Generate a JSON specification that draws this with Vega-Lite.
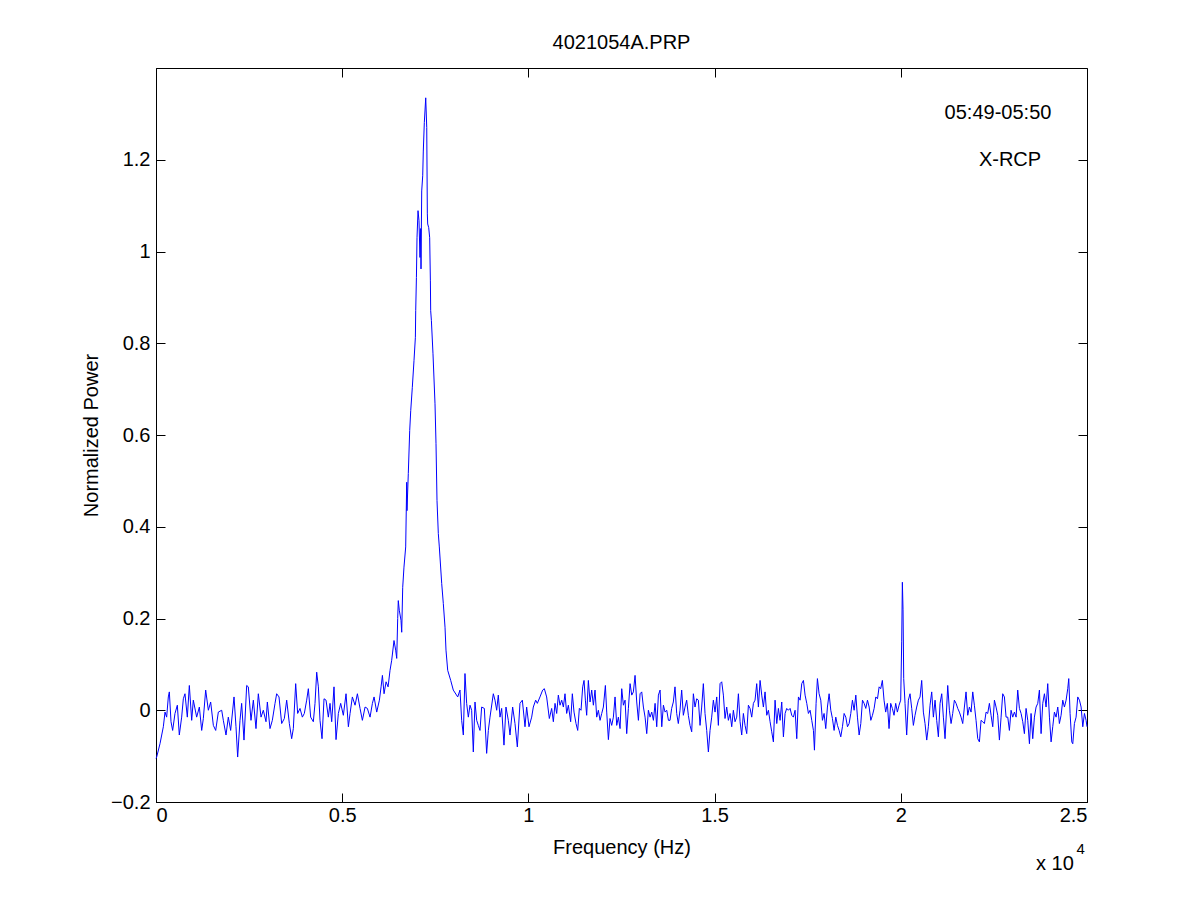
{
  "$schema": "https://vega.github.io/schema/vega-lite/v6.json",
  "width": 931,
  "height": 734,
  "autosize": "none",
  "padding": {"left": 156, "top": 68, "right": 114, "bottom": 99},
  "background": "white",
  "title": {"text": "4021054A.PRP", "font": "Liberation Sans", "fontSize": 20, "fontWeight": "normal", "color": "black", "offset": 15},
  "config": {
    "view": {"stroke": "black", "strokeWidth": 1},
    "axis": {
      "grid": false, "domainColor": "black", "tickColor": "black", "tickSize": -9,
      "labelFont": "Liberation Sans", "labelFontSize": 20, "labelColor": "black",
      "titleFont": "Liberation Sans", "titleFontSize": 20, "titleFontWeight": "normal", "titleColor": "black"
    }
  },
  "datasets": {
    "spectrum": [
      {"f":0,"p":-0.105},{"f":18,"p":-0.102},{"f":107,"p":-0.073},{"f":197,"p":-0.036},{"f":242,"p":-0.004},{"f":286,"p":-0.015},{"f":331,"p":0.029},{"f":358,"p":0.040},{"f":403,"p":-0.025},{"f":447,"p":-0.044},{"f":510,"p":-0.007},{"f":573,"p":0.011},{"f":626,"p":-0.054},{"f":689,"p":-0.015},{"f":734,"p":0.025},{"f":778,"p":0.036},{"f":841,"p":-0.015},{"f":895,"p":0.054},{"f":958,"p":-0.022},{"f":1002,"p":0.022},{"f":1092,"p":-0.015},{"f":1164,"p":0.007},{"f":1227,"p":-0.044},{"f":1271,"p":-0.018},{"f":1334,"p":0.044},{"f":1406,"p":0},{"f":1468,"p":0.018},{"f":1540,"p":-0.033},{"f":1603,"p":-0.044},{"f":1674,"p":-0.004},{"f":1764,"p":0},{"f":1808,"p":-0.022},{"f":1880,"p":-0.054},{"f":1942,"p":-0.015},{"f":2005,"p":-0.044},{"f":2095,"p":0.029},{"f":2148,"p":-0.036},{"f":2193,"p":-0.102},{"f":2256,"p":-0.022},{"f":2300,"p":0.015},{"f":2363,"p":-0.065},{"f":2435,"p":0.054},{"f":2479,"p":0.051},{"f":2551,"p":-0.022},{"f":2614,"p":0.022},{"f":2685,"p":-0.040},{"f":2748,"p":0.036},{"f":2820,"p":-0.015},{"f":2882,"p":0},{"f":2954,"p":-0.025},{"f":2990,"p":0.018},{"f":3061,"p":-0.040},{"f":3124,"p":-0.022},{"f":3196,"p":0.015},{"f":3240,"p":0.036},{"f":3303,"p":0.029},{"f":3375,"p":-0.029},{"f":3446,"p":-0.018},{"f":3509,"p":0.022},{"f":3581,"p":-0.029},{"f":3643,"p":-0.062},{"f":3688,"p":-0.040},{"f":3751,"p":0.058},{"f":3804,"p":-0.007},{"f":3867,"p":0.004},{"f":3930,"p":-0.015},{"f":3983,"p":-0.007},{"f":4046,"p":0.022},{"f":4091,"p":0.047},{"f":4153,"p":-0.015},{"f":4225,"p":-0.025},{"f":4270,"p":0.015},{"f":4315,"p":0.083},{"f":4360,"p":0.051},{"f":4404,"p":-0.022},{"f":4458,"p":-0.062},{"f":4512,"p":0.025},{"f":4566,"p":0.022},{"f":4628,"p":-0.015},{"f":4673,"p":0.015},{"f":4718,"p":-0.025},{"f":4780,"p":0.051},{"f":4834,"p":-0.064},{"f":4897,"p":-0.007},{"f":4959,"p":0.015},{"f":5031,"p":-0.011},{"f":5103,"p":0.036},{"f":5166,"p":-0.036},{"f":5211,"p":-0.007},{"f":5273,"p":0.029},{"f":5345,"p":0.011},{"f":5408,"p":0.036},{"f":5479,"p":0.004},{"f":5542,"p":-0.022},{"f":5614,"p":0.007},{"f":5676,"p":0.004},{"f":5748,"p":-0.015},{"f":5811,"p":0.015},{"f":5856,"p":0.029},{"f":5927,"p":-0.004},{"f":5999,"p":0.022},{"f":6044,"p":0.051},{"f":6080,"p":0.076},{"f":6124,"p":0.036},{"f":6178,"p":0.062},{"f":6232,"p":0.051},
      {"f":6284,"p":0.087},{"f":6329,"p":0.109},{"f":6391,"p":0.152},{"f":6436,"p":0.131},{"f":6464,"p":0.113},{"f":6490,"p":0.200},{"f":6506,"p":0.239},{"f":6533,"p":0.218},{"f":6579,"p":0.196},{"f":6598,"p":0.170},{"f":6625,"p":0.268},{"f":6659,"p":0.312},{"f":6705,"p":0.356},{"f":6732,"p":0.497},{"f":6740,"p":0.435},{"f":6775,"p":0.516},{"f":6813,"p":0.610},{"f":6840,"p":0.653},{"f":6883,"p":0.704},{"f":6928,"p":0.762},{"f":6965,"p":0.813},{"f":6974,"p":0.871},{"f":6993,"p":0.943},{"f":7009,"p":1.030},{"f":7036,"p":1.089},{"f":7062,"p":1.067},{"f":7089,"p":0.987},{"f":7108,"p":1.050},{"f":7116,"p":0.962},{"f":7135,"p":1.132},{"f":7162,"p":1.165},{"f":7178,"p":1.219},{"f":7205,"p":1.281},{"f":7243,"p":1.335},{"f":7270,"p":1.270},{"f":7286,"p":1.082},{"f":7296,"p":1.060},{"f":7323,"p":1.052},{"f":7349,"p":1.030},{"f":7368,"p":0.936},{"f":7376,"p":0.871},{"f":7395,"p":0.850},{"f":7438,"p":0.777},{"f":7492,"p":0.668},{"f":7519,"p":0.581},{"f":7546,"p":0.457},{"f":7581,"p":0.385},{"f":7608,"p":0.356},{"f":7672,"p":0.276},{"f":7715,"p":0.233},{"f":7761,"p":0.181},{"f":7787,"p":0.131},{"f":7833,"p":0.087},{"f":7914,"p":0.065},{"f":7983,"p":0.044},{"f":8102,"p":0.029},
      {"f":8163,"p":0.044},{"f":8208,"p":-0.022},{"f":8253,"p":-0.054},{"f":8297,"p":0.080},{"f":8342,"p":0.015},{"f":8387,"p":-0.015},{"f":8432,"p":0.011},{"f":8476,"p":0},{"f":8521,"p":-0.091},{"f":8566,"p":0.018},{"f":8611,"p":-0.022},{"f":8655,"p":-0.033},{"f":8700,"p":-0.044},{"f":8745,"p":0.007},{"f":8817,"p":0.004},{"f":8879,"p":-0.094},{"f":8924,"p":-0.044},{"f":8969,"p":-0.015},{"f":9058,"p":0.036},{"f":9103,"p":0.022},{"f":9148,"p":0},{"f":9192,"p":0.033},{"f":9237,"p":-0.015},{"f":9282,"p":0.004},{"f":9344,"p":-0.076},{"f":9398,"p":0.007},{"f":9461,"p":-0.022},{"f":9506,"p":-0.054},{"f":9577,"p":0.007},{"f":9640,"p":-0.029},{"f":9703,"p":-0.080},{"f":9774,"p":0.015},{"f":9837,"p":0.022},{"f":9909,"p":-0.036},{"f":9953,"p":0.007},{"f":10016,"p":-0.036},{"f":10088,"p":-0.015},{"f":10132,"p":0.007},{"f":10195,"p":0.022},{"f":10240,"p":0.015},{"f":10311,"p":0.029},{"f":10383,"p":0.044},{"f":10428,"p":0.047},{"f":10490,"p":0.029},{"f":10562,"p":-0.018},
      {"f":10625,"p":0.004},{"f":10670,"p":-0.025},{"f":10715,"p":0.015},{"f":10760,"p":-0.007},{"f":10804,"p":0.033},{"f":10849,"p":0.011},{"f":10894,"p":0.022},{"f":10939,"p":0.007},{"f":10983,"p":0.036},{"f":11028,"p":-0.007},{"f":11073,"p":0.011},{"f":11135,"p":-0.025},{"f":11180,"p":0.036},{"f":11225,"p":-0.004},{"f":11279,"p":-0.029},{"f":11324,"p":-0.044},{"f":11368,"p":0.004},{"f":11413,"p":0},{"f":11458,"p":0.051},{"f":11494,"p":0.065},{"f":11530,"p":0.022},{"f":11565,"p":-0.011},{"f":11610,"p":0.065},{"f":11655,"p":0.018},{"f":11700,"p":0.044},{"f":11745,"p":0.011},{"f":11789,"p":0.044},{"f":11834,"p":-0.015},{"f":11879,"p":0},{"f":11924,"p":-0.022},{"f":11969,"p":-0.007},{"f":12013,"p":0.007},{"f":12067,"p":0.054},{"f":12103,"p":-0.004},{"f":12148,"p":-0.064},{"f":12192,"p":-0.018},{"f":12237,"p":-0.033},{"f":12282,"p":-0.015},{"f":12327,"p":0.029},{"f":12372,"p":-0.033},{"f":12416,"p":-0.015},{"f":12461,"p":-0.040},{"f":12506,"p":0.047},{"f":12551,"p":0.011},{"f":12596,"p":0.022},{"f":12640,"p":-0.051},{"f":12685,"p":0.004},{"f":12730,"p":0.058},{"f":12775,"p":0.033},{"f":12819,"p":0.040},{"f":12864,"p":0.076},{"f":12909,"p":0.018},{"f":12954,"p":-0.022},{"f":12999,"p":0.036},{"f":13043,"p":0.040},{"f":13088,"p":0.007},{"f":13133,"p":-0.015},{"f":13178,"p":-0.051},{"f":13222,"p":0},{"f":13267,"p":-0.015},{"f":13312,"p":-0.004},{"f":13357,"p":-0.022},{"f":13402,"p":0.015},{"f":13446,"p":-0.036},{"f":13491,"p":0.033},{"f":13536,"p":0.044},{"f":13581,"p":-0.036},{"f":13625,"p":0.011},{"f":13670,"p":-0.004},{"f":13715,"p":0},{"f":13760,"p":-0.022},
      {"f":13803,"p":-0.022},{"f":13847,"p":0.004},{"f":13892,"p":0.018},{"f":13937,"p":0.051},{"f":13982,"p":-0.007},{"f":14026,"p":-0.029},{"f":14071,"p":0},{"f":14116,"p":0.044},{"f":14161,"p":-0.011},{"f":14206,"p":0.007},{"f":14250,"p":0.022},{"f":14295,"p":-0.011},{"f":14340,"p":-0.033},{"f":14385,"p":-0.047},{"f":14430,"p":0.036},{"f":14474,"p":0.007},{"f":14519,"p":0.025},{"f":14564,"p":0.022},{"f":14609,"p":-0.033},{"f":14653,"p":0.007},{"f":14698,"p":0.058},{"f":14743,"p":-0.007},{"f":14788,"p":-0.044},{"f":14833,"p":-0.091},{"f":14877,"p":-0.044},{"f":14922,"p":-0.015},{"f":14967,"p":0.022},{"f":15012,"p":-0.004},{"f":15057,"p":0.029},{"f":15101,"p":-0.033},{"f":15146,"p":0.058},{"f":15191,"p":0.062},{"f":15236,"p":0.033},{"f":15280,"p":-0.018},{"f":15325,"p":0.007},{"f":15370,"p":-0.022},{"f":15415,"p":-0.007},{"f":15460,"p":-0.036},{"f":15504,"p":0},{"f":15549,"p":-0.025},{"f":15594,"p":-0.015},{"f":15639,"p":0.036},{"f":15684,"p":-0.025},{"f":15728,"p":-0.054},{"f":15773,"p":-0.007},{"f":15818,"p":-0.033},{"f":15863,"p":-0.051},{"f":15907,"p":0.011},{"f":15952,"p":0.004},{"f":15997,"p":-0.015},{"f":16042,"p":0.015},{"f":16086,"p":0.022},{"f":16131,"p":0.058},{"f":16176,"p":0.007},{"f":16221,"p":0.065},{"f":16266,"p":0.033},{"f":16310,"p":0.007},{"f":16355,"p":0.040},{"f":16400,"p":-0.011},{"f":16445,"p":0},{"f":16490,"p":-0.025},{"f":16534,"p":-0.047},{"f":16579,"p":-0.069},{"f":16624,"p":0.022},{"f":16669,"p":-0.029},{"f":16713,"p":0.004},{"f":16758,"p":-0.022},{"f":16803,"p":0.018},{"f":16848,"p":-0.058},{"f":16893,"p":-0.007},{"f":16937,"p":0.004},{"f":16982,"p":0},{"f":17027,"p":0.004},{"f":17072,"p":-0.011},{"f":17116,"p":-0.015},{"f":17161,"p":0},{"f":17206,"p":-0.062},{"f":17251,"p":0.029},{"f":17296,"p":0.022},{"f":17340,"p":0.058},{"f":17385,"p":0.065},{"f":17430,"p":0.033},{"f":17475,"p":0.015},{"f":17519,"p":-0.007},{"f":17564,"p":0},{"f":17609,"p":-0.022},{"f":17654,"p":-0.044},{"f":17681,"p":-0.087},{"f":17725,"p":0.015},{"f":17761,"p":0.069},{"f":17806,"p":0.036},{"f":17851,"p":0.022},{"f":17896,"p":-0.022},{"f":17940,"p":-0.007},{"f":17985,"p":-0.040},{"f":18030,"p":0.007},{"f":18075,"p":0.036},{"f":18120,"p":0},{"f":18164,"p":-0.018},{"f":18209,"p":-0.044},{"f":18254,"p":-0.015},{"f":18299,"p":-0.033},{"f":18344,"p":-0.044},{"f":18388,"p":-0.058},{"f":18433,"p":-0.036},{"f":18478,"p":-0.007},{"f":18523,"p":-0.015},{"f":18568,"p":-0.036},{"f":18612,"p":-0.029},{"f":18657,"p":-0.007},{"f":18702,"p":0.022},{"f":18747,"p":0},{"f":18792,"p":0.033},{"f":18836,"p":-0.015},{"f":18881,"p":-0.054},{"f":18926,"p":-0.029},{"f":18971,"p":0.022},{"f":19015,"p":0.015},{"f":19060,"p":0.004},{"f":19105,"p":0.022},{"f":19150,"p":0.007},{"f":19195,"p":-0.022},{"f":19239,"p":-0.011},{"f":19284,"p":0.004},{"f":19329,"p":0.029},{"f":19374,"p":0.025},{"f":19418,"p":0.051},
      {"f":19460,"p":0.047},{"f":19505,"p":0.065},{"f":19550,"p":0.022},{"f":19594,"p":-0.004},{"f":19639,"p":0.015},{"f":19684,"p":-0.040},{"f":19729,"p":0.015},{"f":19773,"p":0.004},{"f":19818,"p":-0.011},{"f":19863,"p":0.015},{"f":19908,"p":-0.004},{"f":19953,"p":0.011},{"f":19997,"p":0.022},{"f":20024,"p":0.149},{"f":20042,"p":0.279},{"f":20060,"p":0.219},{"f":20078,"p":0.069},{"f":20114,"p":0.015},{"f":20158,"p":-0.054},{"f":20203,"p":0.022},{"f":20248,"p":0.036},{"f":20293,"p":0.004},{"f":20338,"p":-0.033},{"f":20382,"p":-0.011},{"f":20427,"p":0.007},{"f":20472,"p":0.022},{"f":20517,"p":0.029},{"f":20561,"p":0.065},{"f":20606,"p":-0.004},{"f":20651,"p":-0.029},{"f":20696,"p":-0.065},{"f":20740,"p":-0.036},{"f":20785,"p":0.011},{"f":20830,"p":0.040},{"f":20875,"p":-0.015},{"f":20920,"p":0.022},{"f":20964,"p":-0.022},{"f":21009,"p":-0.058},{"f":21054,"p":0.015},{"f":21099,"p":0.036},{"f":21143,"p":-0.015},{"f":21188,"p":-0.062},{"f":21233,"p":0.007},{"f":21260,"p":0.054},{"f":21305,"p":0},{"f":21350,"p":-0.029},{"f":21394,"p":-0.007},{"f":21439,"p":0.022},{"f":21484,"p":0.015},{"f":21529,"p":0.004},{"f":21573,"p":-0.004},{"f":21618,"p":-0.015},{"f":21663,"p":-0.029},{"f":21708,"p":0.007},{"f":21752,"p":0.040},{"f":21797,"p":-0.011},{"f":21842,"p":0.007},{"f":21887,"p":-0.004},{"f":21932,"p":0.040},{"f":21976,"p":0.011},{"f":22021,"p":-0.022},{"f":22066,"p":-0.062},{"f":22111,"p":-0.069},{"f":22155,"p":-0.022},{"f":22200,"p":-0.025},{"f":22245,"p":-0.029},{"f":22290,"p":-0.004},{"f":22334,"p":-0.007},{"f":22379,"p":0.015},{"f":22424,"p":-0.011},{"f":22469,"p":-0.036},{"f":22514,"p":0.022},{"f":22558,"p":0.007},{"f":22603,"p":-0.011},{"f":22648,"p":-0.065},{"f":22693,"p":-0.015},{"f":22737,"p":0.036},{"f":22782,"p":0.029},{"f":22827,"p":-0.015},{"f":22872,"p":-0.015},{"f":22916,"p":-0.044},{"f":22961,"p":0},{"f":23006,"p":-0.015},{"f":23051,"p":-0.004},{"f":23096,"p":-0.015},{"f":23140,"p":0.044},{"f":23185,"p":0.004},{"f":23230,"p":-0.007},{"f":23275,"p":-0.025},{"f":23319,"p":-0.051},{"f":23364,"p":0.004},{"f":23409,"p":-0.022},{"f":23454,"p":-0.073},{"f":23498,"p":-0.007},{"f":23543,"p":-0.062},{"f":23588,"p":-0.015},{"f":23633,"p":0.007},{"f":23678,"p":0.015},{"f":23722,"p":0.044},{"f":23767,"p":-0.051},{"f":23812,"p":0.015},{"f":23857,"p":0.036},{"f":23901,"p":0.007},{"f":23946,"p":0.058},{"f":23991,"p":-0.015},{"f":24036,"p":-0.069},{"f":24080,"p":-0.036},{"f":24125,"p":-0.004},{"f":24170,"p":-0.015},{"f":24215,"p":0.007},{"f":24259,"p":-0.029},{"f":24304,"p":-0.011},{"f":24349,"p":0.022},{"f":24394,"p":0.007},{"f":24439,"p":0.022},{"f":24483,"p":0.047},{"f":24510,"p":0.069},{"f":24546,"p":-0.007},{"f":24591,"p":-0.069},{"f":24618,"p":-0.073},{"f":24662,"p":-0.029},{"f":24707,"p":-0.015},{"f":24752,"p":0.029},{"f":24797,"p":0.022},{"f":24842,"p":0.007},{"f":24887,"p":-0.036},{"f":24931,"p":-0.007},{"f":24976,"p":-0.022},{"f":25000,"p":-0.036}
    ],
    "notes": [
      {"f":22610,"p":1.301,"label":"05:49-05:50"},
      {"f":22932,"p":1.200,"label":"X-RCP"},
      {"f":24140,"p":-0.335,"label":"x 10"}
    ],
    "exponent": [
      {"f":24830,"p":-0.302,"label":"4"}
    ]
  },
  "layer": [
    {
      "data": {"name": "spectrum"},
      "mark": {"type": "line", "color": "#0000ff", "strokeWidth": 1, "interpolate": "linear"},
      "encoding": {
        "x": {
          "field": "f", "type": "quantitative",
          "scale": {"domain": [0, 25000], "nice": false, "zero": false},
          "axis": {"orient": "bottom", "values": [0, 5000, 10000, 15000, 20000, 25000], "labelExpr": "datum.value / 10000", "labelPadding": 12, "title": "Frequency (Hz)", "titlePadding": 12}
        },
        "y": {
          "field": "p", "type": "quantitative",
          "scale": {"domain": [-0.2, 1.4], "nice": false, "zero": false},
          "axis": {"orient": "left", "values": [-0.2, 0, 0.2, 0.4, 0.6, 0.8, 1, 1.2], "format": ".1~f", "labelPadding": 15, "title": "Normalized Power", "titlePadding": 9}
        }
      }
    },
    {
      "data": {"name": "notes"},
      "mark": {"type": "text", "font": "Liberation Sans", "fontSize": 20, "color": "black", "align": "center", "baseline": "middle"},
      "encoding": {
        "x": {"field": "f", "type": "quantitative", "axis": {"orient": "top", "values": [0, 5000, 10000, 15000, 20000, 25000], "labels": false, "title": null, "domain": false}},
        "y": {"field": "p", "type": "quantitative", "axis": {"orient": "right", "values": [-0.2, 0, 0.2, 0.4, 0.6, 0.8, 1, 1.2], "labels": false, "title": null, "domain": false}},
        "text": {"field": "label"}
      }
    },
    {
      "data": {"name": "exponent"},
      "mark": {"type": "text", "font": "Liberation Sans", "fontSize": 15, "color": "black", "align": "center", "baseline": "middle"},
      "encoding": {
        "x": {"field": "f", "type": "quantitative", "axis": null},
        "y": {"field": "p", "type": "quantitative", "axis": null},
        "text": {"field": "label"}
      }
    }
  ],
  "resolve": {"axis": {"x": "independent", "y": "independent"}}
}
